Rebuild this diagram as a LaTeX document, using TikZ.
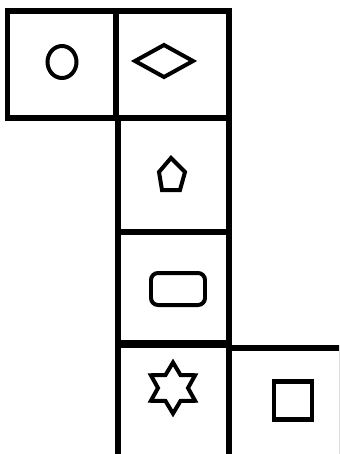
\documentclass[tikz,border=0pt]{standalone}
\usetikzlibrary{calc}
\tikzset{
  cellline/.style={line width=0.11cm},
  symline/.style={line width=0.08cm}
}
\begin{document}
\begin{tikzpicture}[x=0.02cm,y=-0.02cm]
    \useasboundingbox (0,0) rectangle (339,454);
    \fill[white] (0,0) rectangle (339,454);
    \clip (0,0) rectangle (339,454);
    % the six cells of the net
    \foreach \xa/\ya/\xb/\yb in {7.5/11/116/118, 116/11/229/118, 118/118/229/232, 118/232/229/345, 118/343/229/458, 229/348/342/458}{
      \draw[cellline] (\xa,\ya) rectangle (\xb,\yb);
    }
    % symbols
    \draw[symline] (62,62) ellipse [x radius=0.29cm, y radius=0.32cm];
    \draw[symline] (135,61) -- (164,45) -- (193,61) -- (164,77) -- cycle;
    \draw[symline] (171,158) -- (185,172) -- (180,190) -- (162,190) -- (159,172) -- cycle;
    \draw[symline,rounded corners=0.14cm] (151,273) rectangle (205,305);
    \draw[symline] (173,388) +(90:25.5) -- +(120:15) -- +(150:25.5) -- +(180:15) -- +(210:25.5) -- +(240:15)
      -- +(270:25.5) -- +(300:15) -- +(330:25.5) -- +(0:15) -- +(30:25.5) -- +(60:15) -- cycle;
    \draw[line width=0.1cm] (274,381) rectangle (312,419);
  \end{tikzpicture}
\end{document}
